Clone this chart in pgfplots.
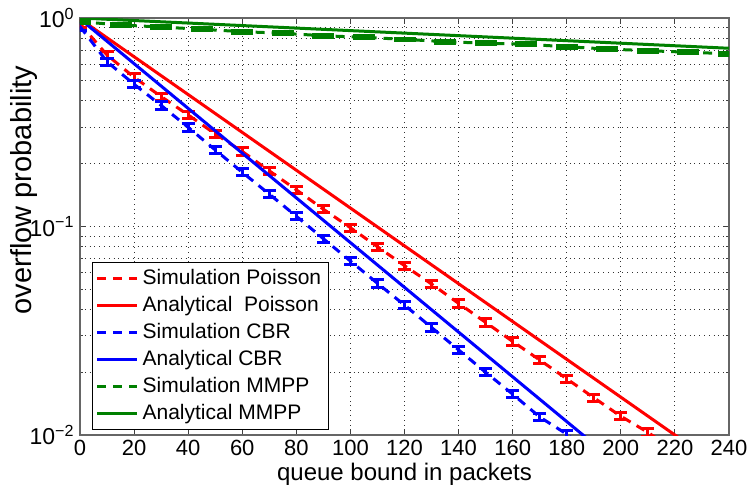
\documentclass[border=0pt]{standalone}
\usepackage{fontspec}
\setmainfont{Liberation Sans}
\usepackage{pgfplots}
\pgfplotsset{compat=1.18}
\definecolor{mgreen}{RGB}{0,128,0}
\definecolor{mred}{RGB}{255,0,0}
\definecolor{mblue}{RGB}{0,0,255}

\pgfplotstableread{
x y
0 0.94
10 0.664
20 0.52
30 0.42
40 0.343
50 0.278
60 0.229
70 0.185
80 0.150
90 0.121
100 0.0987
110 0.080
120 0.0649
130 0.053
140 0.0428
150 0.0347
160 0.0281
170 0.0229
180 0.0186
190 0.0151
200 0.0123
210 0.0103
220 0.0084
}\simpoisson

\pgfplotstableread{
x y
0 0.91
10 0.617
20 0.481
30 0.381
40 0.299
50 0.233
60 0.182
70 0.143
80 0.112
90 0.0874
100 0.0683
110 0.0534
120 0.042
130 0.0328
140 0.0256
150 0.020
160 0.0157
170 0.0122
180 0.0101
190 0.0079
}\simcbr

\pgfplotstableread{
x y
0 0.96
15 0.926
30 0.905
45 0.883
60 0.86
75 0.845
90 0.822
105 0.808
120 0.79
135 0.77
150 0.757
165 0.748
180 0.728
195 0.71
210 0.697
225 0.685
240 0.674
}\simmmpp

\begin{document}
\begin{tikzpicture}
\useasboundingbox (-40pt,-29.5pt) rectangle (334.5pt,217.5pt);
\begin{axis}[
  at={(0pt,0pt)}, anchor=south west,
  scale only axis,
  width=324.5pt, height=208.5pt,
  ymode=log,
  xmin=0, xmax=240, ymin=0.01, ymax=1,
  xtick={0,20,...,240},
  ytick={0.01,0.1,1},
  yticklabels={10\textsuperscript{−2},10\textsuperscript{−1},10\textsuperscript{0}},
  minor ytick={0.02,0.03,0.04,0.05,0.06,0.07,0.08,0.09,0.2,0.3,0.4,0.5,0.6,0.7,0.8,0.9},
  /pgf/number format/assume math mode=true,
  grid=both,
  major grid style={dotted, black!80, line width=0.5pt},
  minor grid style={dotted, black!80, line width=0.5pt},
  tick align=inside,
  major tick length=3pt,
  minor tick length=1.6pt,
  tick style={black!75, line width=0.5pt},
  axis line style={black!60, line width=0.6pt},
  xticklabel style={font=\fontsize{11}{13}\selectfont, inner sep=1pt, yshift=-1.5pt},
  yticklabel style={font=\fontsize{11.5}{13}\selectfont, inner sep=1pt, xshift=-1.5pt},
  xlabel={queue bound in packets},
  ylabel={overflow probability},
  every axis x label/.style={at={(axis description cs:0.5,-0.095)}, anchor=center,
    font=\fontsize{12}{14}\selectfont},
  every axis y label/.style={at={(axis description cs:-0.0863,0.5875)}, rotate=90, anchor=center,
    font=\fontsize{14.5}{16}\selectfont},
  legend style={at={(axis description cs:0.0185,0.012)}, anchor=south west,
    font=\fontsize{10.5}{12}\selectfont, draw=black, line width=0.6pt,
    fill=white, inner sep=1.5pt, row sep=0.4pt, cells={anchor=west},
    legend cell align=left},
  legend image code/.code={\draw[#1] (0pt,0pt) -- (20pt,0pt);},
  every axis plot/.append style={line width=1.5pt},
  clip mode=individual,
]
\addplot[mred, dash pattern=on 4.5pt off 3.5pt, error bars/.cd, y dir=both, y fixed relative=0.04,
  error mark=|,
  error bar style={solid, line width=1.5pt}, error mark options={solid, line width=1.5pt, mark size=3.3pt}]
  table[x=x,y=y] {\simpoisson};
\addlegendentry{Simulation Poisson}
\addplot[mred, solid] coordinates {(0,0.99) (220,0.01) (240,0.0066)};
\addlegendentry{Analytical\ \ Poisson}
\addplot[mblue, dash pattern=on 4.5pt off 3.5pt, error bars/.cd, y dir=both, y fixed relative=0.04,
  error mark=|,
  error bar style={solid, line width=1.5pt}, error mark options={solid, line width=1.5pt, mark size=3.3pt}]
  table[x=x,y=y] {\simcbr};
\addlegendentry{Simulation CBR}
\addplot[mblue, solid] coordinates {(0,0.99) (186,0.01) (200,0.0071)};
\addlegendentry{Analytical CBR}
\addplot[mgreen, dash pattern=on 4.5pt off 3.5pt, error bars/.cd, y dir=both, y fixed relative=0.015,
  error mark=|,
  error bar style={solid, line width=1.5pt}, error mark options={solid, line width=1.5pt, mark size=5.5pt}]
  table[x=x,y=y] {\simmmpp};
\addlegendentry{Simulation MMPP}
\addplot[mgreen, solid] coordinates {(0,1.0) (240,0.716)};
\addlegendentry{Analytical MMPP}
\end{axis}
\end{tikzpicture}
\end{document}
